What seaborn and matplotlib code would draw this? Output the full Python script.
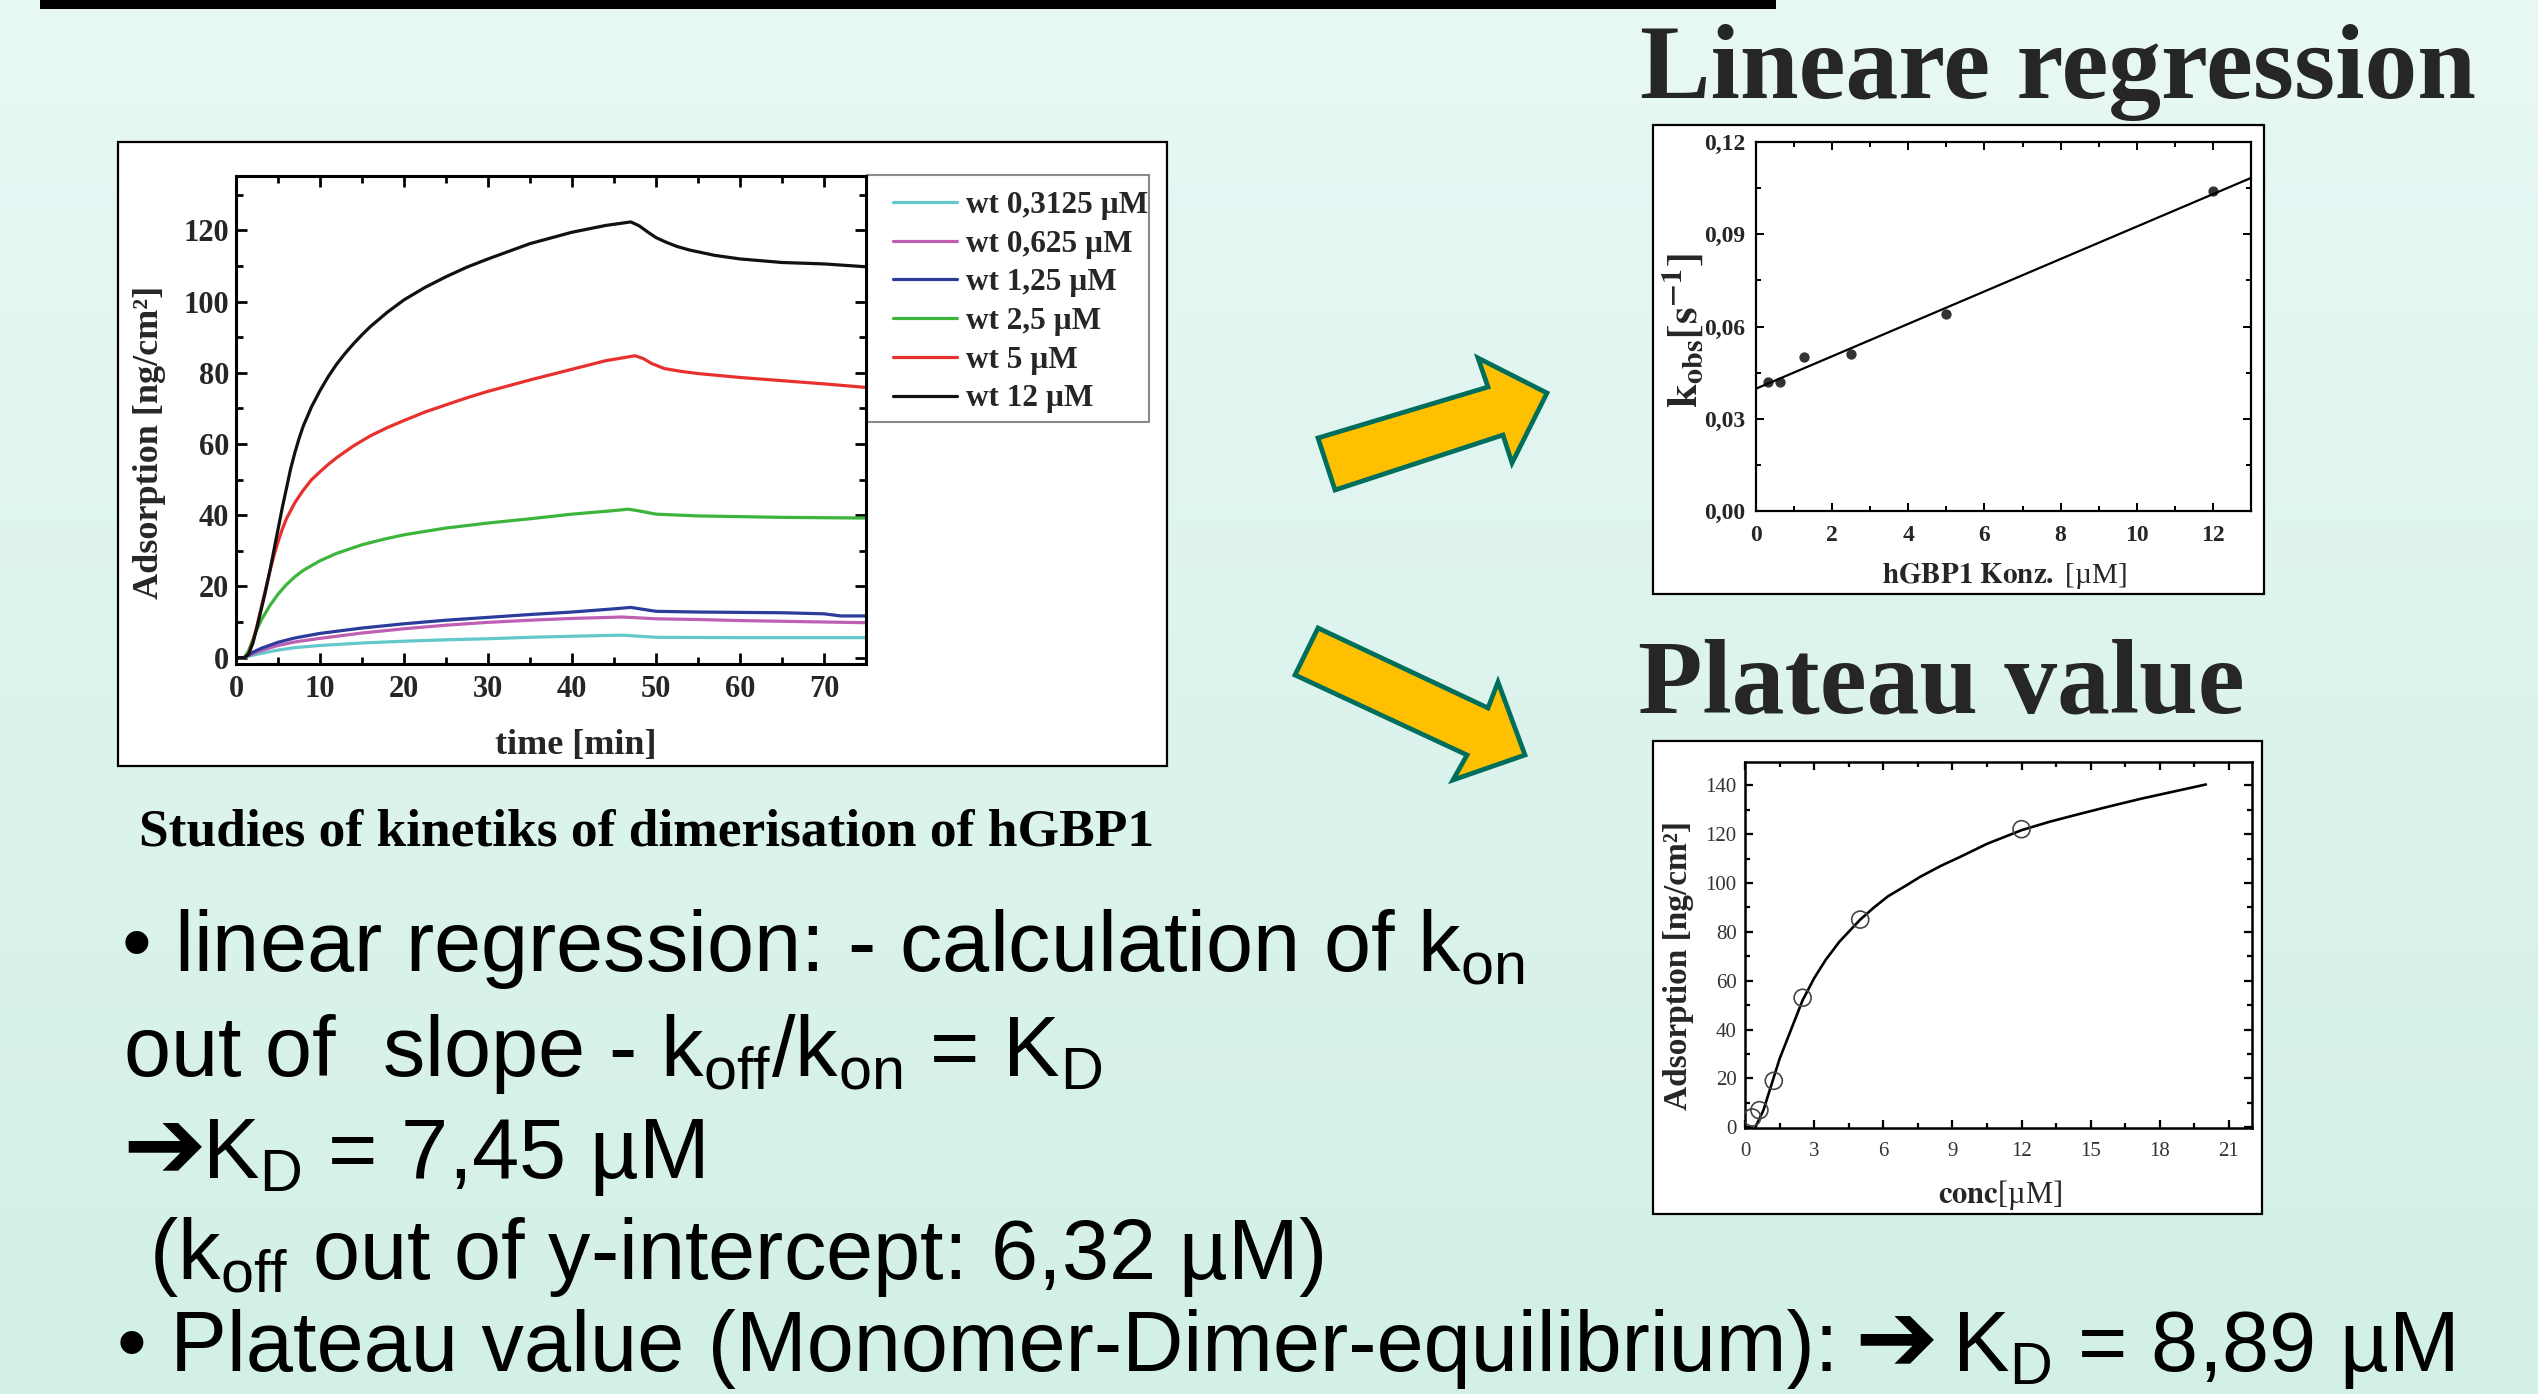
import numpy as np
import pandas as pd
import matplotlib
matplotlib.use("Agg")
import matplotlib.pyplot as plt
import seaborn as sns
from matplotlib.patches import Rectangle, Polygon
from matplotlib.ticker import MultipleLocator
from matplotlib.colors import LinearSegmentedColormap
from matplotlib.font_manager import FontProperties

# ---------------- data ----------------
series_labels = ["wt 0,3125 µM", "wt 0,625 µM", "wt 1,25 µM", "wt 2,5 µM", "wt 5 µM", "wt 12 µM"]
series_colors = ["#62C8CC", "#BE5FB4", "#2B3C9B", "#3DB53D", "#E8312F", "#111111"]

t_0312 = [0, 1, 1.5, 3, 5, 7, 10, 15, 20, 25, 30, 35, 40, 46, 48, 50, 60, 75]
v_0312 = [0, 0, 0.4, 1.2, 2.1, 2.8, 3.4, 4.1, 4.6, 5.0, 5.3, 5.7, 6.0, 6.3, 6.0, 5.7, 5.6, 5.6]

t_0625 = [0, 1, 1.5, 3, 5, 7, 10, 15, 20, 25, 30, 35, 40, 46, 50, 55, 60, 65, 70, 75]
v_0625 = [0, 0, 0.6, 2.0, 3.4, 4.4, 5.4, 6.9, 8.1, 9.1, 9.9, 10.5, 11.0, 11.4, 10.9, 10.7, 10.4, 10.2, 10.0, 9.8]

t_125 = [0, 1, 1.5, 2, 3, 5, 7, 10, 15, 20, 25, 30, 35, 40, 45, 47, 50, 55, 60, 65, 70, 72, 75]
v_125 = [0, 0, 0.7, 1.5, 2.6, 4.3, 5.5, 6.8, 8.3, 9.5, 10.5, 11.3, 12.1, 12.8, 13.7, 14.1, 13.0, 12.8, 12.7, 12.6, 12.3, 11.7, 11.7]

t_25 = [0, 1, 1.5, 2, 2.5, 3, 4, 5, 6, 7, 8, 10, 12, 15, 17.5, 20, 25, 30, 35, 40, 45, 46.7, 48, 50, 55, 60, 65, 70, 75]
v_25 = [0, 0, 2, 5, 8, 10.5, 14.5, 17.8, 20.5, 22.7, 24.5, 27.2, 29.3, 31.7, 33.2, 34.5, 36.4, 37.8, 39, 40.3, 41.3, 41.7, 41.2, 40.3, 39.8, 39.6, 39.4, 39.3, 39.2]

t_5 = [0, 1, 1.5, 2, 2.5, 3, 3.5, 4, 4.5, 5, 5.5, 6, 7, 8, 9, 10, 11, 12, 14, 16, 18, 20, 22.5, 25, 27.5, 30, 35, 40, 44, 47.5, 48.5, 49.5, 51, 53, 55, 60, 65, 70, 75]
v_5 = [0, 0, 1, 4.5, 9, 14, 19, 24, 28.5, 32.5, 36, 39, 43.5, 47, 50, 52.2, 54.3, 56.2, 59.5, 62.3, 64.6, 66.6, 69, 71, 73, 74.8, 78, 81, 83.4, 84.8, 84, 82.6, 81.2, 80.4, 79.8, 78.7, 77.8, 76.9, 75.9]

t_12 = [0, 1, 1.5, 2, 2.5, 3, 3.5, 4, 4.5, 5, 5.5, 6, 6.5, 7, 7.5, 8, 9, 10, 11, 12, 13, 14, 15, 16, 18, 20, 22.5, 25, 27.5, 30, 35, 40, 44, 47, 48, 49, 50, 51.2, 52.5, 54, 57, 60, 65, 70, 75]
v_12 = [0, 0, 1, 4, 8.5, 13.5, 18.5, 24, 30, 36, 42, 47.5, 53, 57.5, 61.5, 65, 70.5, 75, 79, 82.5, 85.5, 88.2, 90.7, 93, 97, 100.5, 104, 107, 109.7, 112, 116.3, 119.5, 121.4, 122.4, 121.3, 119.6, 118, 116.7, 115.5, 114.5, 113, 112, 111, 110.6, 109.8]

main_xticks = [0, 10, 20, 30, 40, 50, 60, 70]
main_yticks = [0, 20, 40, 60, 80, 100, 120]

conc_lin = [0.3125, 0.625, 1.25, 2.5, 5, 12]
kobs = [0.042, 0.042, 0.050, 0.051, 0.064, 0.104]
lin_xticks = [0, 2, 4, 6, 8, 10, 12]
lin_yticks = [0.0, 0.03, 0.06, 0.09, 0.12]
lin_ytick_labels = ["0,00", "0,03", "0,06", "0,09", "0,12"]

conc_pl = [0.3125, 0.625, 1.25, 2.5, 5, 12]
ads_pl = [4, 7, 19, 53, 85, 122]
fit_x = [0.45, 0.8, 1.1, 1.5, 2.0, 2.5, 3.0, 3.5, 4.1, 4.6, 5.0, 5.6, 6.2, 7.0, 7.6, 8.5, 9.3, 10.5, 12, 13.2, 14.5, 15.8, 17.2, 18.6, 20]
fit_y = [0, 7, 16, 28, 40, 52, 61, 68.5, 76, 81, 85, 90, 94.5, 99, 102.5, 107, 110.5, 116, 121.6, 125, 128.2, 131.3, 134.5, 137.4, 140.3]
pl_xticks = [0, 3, 6, 9, 12, 15, 18, 21]
pl_yticks = [0, 20, 40, 60, 80, 100, 120, 140]

# ---------------- setup ----------------
sns.set_theme(style="ticks")
SERIF = "Liberation Serif"
SANS = "Liberation Sans"
plt.rcParams["font.family"] = [SERIF, "DejaVu Serif"]
plt.rcParams["mathtext.fontset"] = "custom"
plt.rcParams["mathtext.rm"] = SANS
plt.rcParams["mathtext.it"] = SANS + ":italic"
plt.rcParams["mathtext.bf"] = SANS + ":bold"

W, H = 2538, 1394
fig = plt.figure(figsize=(W / 100, H / 100), dpi=100)


def frac_rect(l, t, r, b):
    return [l / W, 1 - b / H, (r - l) / W, (b - t) / H]


def fx(x):
    return x / W


def fy(y):
    return 1 - y / H


# background gradient
ax_bg = fig.add_axes([0, 0, 1, 1], zorder=-20)
grad = np.linspace(0, 1, 256).reshape(-1, 1)
ax_bg.imshow(grad, aspect="auto", cmap=LinearSegmentedColormap.from_list("bg", ["#E8F8F5", "#D2F0E7"]),
             extent=[0, 1, 0, 1], origin="upper")
ax_bg.set_axis_off()


def panel(l, t, r, b, lw=1.6, ec="black", z=-10):
    fig.add_artist(Rectangle((fx(l), fy(b)), fx(r) - fx(l), fy(t) - fy(b), transform=fig.transFigure,
                             facecolor="white", edgecolor=ec, lw=lw, zorder=z))


# top black bar
fig.add_artist(Rectangle((fx(40), fy(9)), fx(1776) - fx(40), fy(0) - fy(9), transform=fig.transFigure,
                         facecolor="black", edgecolor="none", zorder=-5))

panel(118, 142, 1167, 766)
panel(1653, 125, 2264, 594)
panel(1653, 741, 2262, 1214)
# legend frame of the kinetics chart
panel(867, 175, 1149, 422, lw=1.5, ec="#8a8a8a", z=-9)


def style_axes(ax, lw, tl):
    ax.set_facecolor("white")
    for s in ax.spines.values():
        s.set_visible(True)
        s.set_linewidth(lw)
        s.set_color("black")
    ax.tick_params(which="both", direction="in", top=True, right=True, width=lw * 0.9, color="black")
    ax.tick_params(which="major", length=tl)
    ax.tick_params(which="minor", length=tl * 0.6)


# ---------------- main kinetics chart ----------------
ax = fig.add_axes(frac_rect(236, 176, 866, 664))
rows = []
for lab, tt, vv in zip(series_labels, [t_0312, t_0625, t_125, t_25, t_5, t_12],
                       [v_0312, v_0625, v_125, v_25, v_5, v_12]):
    for a, b in zip(tt, vv):
        rows.append((lab, a, b))
df = pd.DataFrame(rows, columns=["series", "time", "ads"])
sns.lineplot(data=df, x="time", y="ads", hue="series", hue_order=series_labels,
             palette=dict(zip(series_labels, series_colors)), estimator=None, linewidth=2.3, ax=ax)
ax.set_xlim(0, 75)
ax.set_ylim(-1.8, 135.3)
style_axes(ax, 2.2, 8)
ax.set_xticks(main_xticks, [str(v) for v in main_xticks], fontsize=22, fontweight="bold", family=SERIF)
ax.set_yticks(main_yticks, [str(v) for v in main_yticks], fontsize=22, fontweight="bold", family=SERIF)
ax.xaxis.set_minor_locator(MultipleLocator(5))
ax.yaxis.set_minor_locator(MultipleLocator(10))
ax.tick_params(axis="x", pad=8)
ax.tick_params(axis="y", pad=5)
ax.set_xlabel("time [min]", fontsize=26, fontweight="bold", family=SERIF)
ax.set_ylabel("Adsorption [ng/cm²]", fontsize=26, fontweight="bold", family=SERIF)
ax.xaxis.label.set(ha="center", va="center")
ax.yaxis.label.set(ha="center", va="center", rotation_mode="default")
ax.xaxis.set_label_coords(0.54, -0.168)
ax.yaxis.set_label_coords(-0.137, 0.455)
handles, labels = ax.get_legend_handles_labels()
if ax.get_legend() is not None:
    ax.get_legend().remove()
leg = ax.legend(handles, labels, loc="upper left", bbox_to_anchor=(fx(893), fy(191)),
                bbox_transform=fig.transFigure, borderaxespad=0, borderpad=0, frameon=False,
                prop=FontProperties(family=SERIF, weight="bold", size=22.5),
                handlelength=2.05, handletextpad=0.3, labelspacing=0.31)
for ln in leg.get_lines():
    ln.set_linewidth(2.3)

# ---------------- linear regression chart ----------------
ax2 = fig.add_axes(frac_rect(1756, 142, 2251, 511))
ax2.set_xlim(0, 13)
ax2.set_ylim(0, 0.12)
sns.regplot(x=conc_lin, y=kobs, ci=None, truncate=False, ax=ax2,
            scatter_kws=dict(s=55, color="black", zorder=3, linewidths=0),
            line_kws=dict(color="black", lw=1.6))
ax2.set_xlim(0, 13)
ax2.set_ylim(0, 0.12)
style_axes(ax2, 1.6, 6)
ax2.set_xticks(lin_xticks, [str(v) for v in lin_xticks], fontsize=17, fontweight="bold", family=SERIF)
ax2.set_yticks(lin_yticks, lin_ytick_labels, fontsize=17, fontweight="bold", family=SERIF)
ax2.xaxis.set_minor_locator(MultipleLocator(1))
ax2.yaxis.set_minor_locator(MultipleLocator(0.015))
ax2.tick_params(axis="x", pad=10)
ax2.tick_params(axis="y", pad=8)
ax2.set_xlabel(r"$\mathbf{hGBP1\ Konz.}$ [µM]", fontsize=21, family=SERIF, math_fontfamily="stix")
ax2.set_ylabel(r"$\mathbf{k_{obs}[s^{-1}]}$", fontsize=31, family=SERIF, math_fontfamily="stix")
ax2.xaxis.label.set(ha="center", va="center")
ax2.yaxis.label.set(ha="center", va="center", rotation_mode="default")
ax2.xaxis.set_label_coords(0.501, -0.176)
ax2.yaxis.set_label_coords(-0.147, 0.49)

# ---------------- plateau chart ----------------
ax3 = fig.add_axes(frac_rect(1745, 762, 2252, 1128))
sns.lineplot(x=fit_x, y=fit_y, color="black", lw=1.9, ax=ax3)
sns.scatterplot(x=conc_pl, y=ads_pl, s=150, facecolors="none", edgecolor="#444444", linewidth=1.2, ax=ax3, zorder=3)
ax3.set_xlim(0, 22)
ax3.set_ylim(-0.3, 149.5)
style_axes(ax3, 1.8, 6)
ax3.set_xticks(pl_xticks, [str(v) for v in pl_xticks], fontsize=15, family=SERIF, color="#333333")
ax3.set_yticks(pl_yticks, [str(v) for v in pl_yticks], fontsize=15, family=SERIF, color="#333333")
ax3.xaxis.set_minor_locator(MultipleLocator(1.5))
ax3.yaxis.set_minor_locator(MultipleLocator(10))
ax3.tick_params(axis="x", pad=10)
ax3.tick_params(axis="y", pad=6)
ax3.set_xlabel(r"$\mathbf{conc}$[µM]", fontsize=22, family=SERIF, math_fontfamily="stix")
ax3.set_ylabel("Adsorption [ng/cm²]", fontsize=24, fontweight="bold", family=SERIF)
ax3.xaxis.label.set(ha="center", va="center")
ax3.yaxis.label.set(ha="center", va="center", rotation_mode="default")
ax3.xaxis.set_label_coords(0.503, -0.183)
ax3.yaxis.set_label_coords(-0.132, 0.443)

# ---------------- titles / captions ----------------
fig.text(fx(1640), fy(98), "Lineare regression", fontsize=76, fontweight="bold", family=SERIF, va="baseline")
fig.text(fx(1638), fy(712), "Plateau value", fontsize=76, fontweight="bold", family=SERIF, va="baseline")
fig.text(fx(139), fy(845), "Studies of kinetiks of dimerisation of hGBP1", fontsize=38.5, fontweight="bold",
         family=SERIF, va="baseline", color="black")

renderer = fig.canvas.get_renderer()
body_kw = dict(fontsize=61, family=SANS, color="black", math_fontfamily="custom")
arrow_kw = dict(fontsize=72, family="DejaVu Sans", color="black")


def draw_line(x_px, y_px, pieces):
    x = x_px
    for text, kw, dy, gap in pieces:
        t = fig.text(fx(x), fy(y_px - dy), text, va="baseline", **kw)
        bb = t.get_window_extent(renderer=renderer)
        x = x + bb.width + gap


draw_line(121, 971, [(r"• linear regression: - calculation of k$_{\mathrm{on}}$", body_kw, 0, 0)])
draw_line(123, 1076, [(r"out of  slope - k$_{\mathrm{off}}$/k$_{\mathrm{on}}$ = K$_{\mathrm{D}}$", body_kw, 0, 0)])
draw_line(122, 1178, [("➔", arrow_kw, 0, -4), (r"K$_{\mathrm{D}}$ = 7,45 µM", body_kw, 0, 0)])
draw_line(149, 1279, [(r"(k$_{\mathrm{off}}$ out of y-intercept: 6,32 µM)", body_kw, 0, 0)])
draw_line(117, 1371, [("• Plateau value (Monomer-Dimer-equilibrium):", body_kw, 0, 16),
                      ("➔", arrow_kw, 0, 14),
                      (r"K$_{\mathrm{D}}$ = 8,89 µM", body_kw, 0, 0)])

# ---------------- arrows ----------------
arrow_up = [(1318, 438), (1488, 387), (1478, 358), (1547, 393), (1512, 463), (1503, 435), (1335, 490)]
arrow_dn = [(1318, 628), (1488, 708), (1498, 682), (1525, 755), (1453, 780), (1467, 755), (1295, 675)]
for pts in (arrow_up, arrow_dn):
    fig.add_artist(Polygon([(fx(a), fy(b)) for a, b in pts], closed=True, transform=fig.transFigure,
                           facecolor="#FFC000", edgecolor="#006E5C", lw=3.4, joinstyle="miter", zorder=2))

fig.savefig("out.png", dpi=100)
